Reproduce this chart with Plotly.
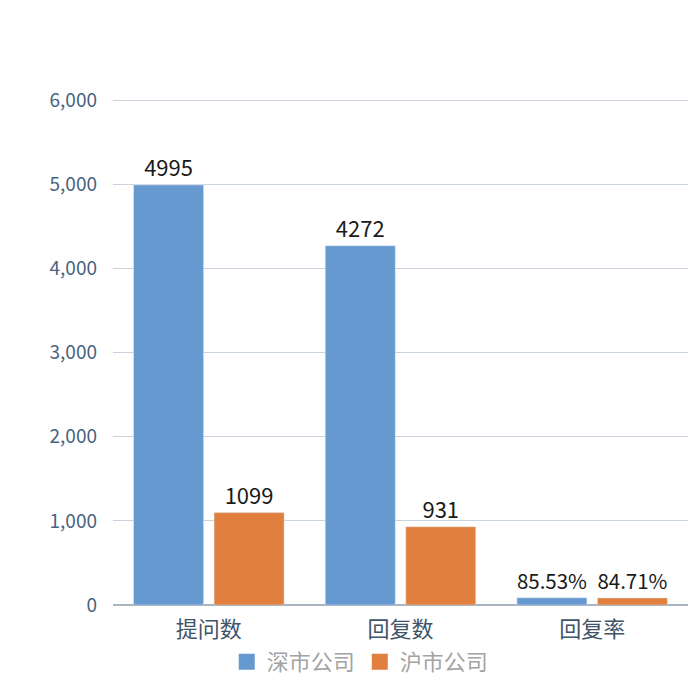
import plotly.graph_objects as go

categorias = ["提问数", "回复数", "回复率"]
shenshi = [4995, 4272, 85.53]
hushi = [1099, 931, 84.71]
rotulos_shenshi = ["4995", "4272", "85.53%"]
rotulos_hushi = ["1099", "931", "84.71%"]

fonte = "Noto Sans CJK SC"

fig = go.Figure()
for nome, valores, rotulos, cor in [
    ("深市公司", shenshi, rotulos_shenshi, "#6699D0"),
    ("沪市公司", hushi, rotulos_hushi, "#E07F3E"),
]:
    fig.add_trace(go.Bar(
        x=categorias, y=valores, name=nome,
        marker_color=cor,
        text=rotulos, textposition="outside",
        textfont=dict(color="#1a1a1a", size=22),
        cliponaxis=False, showlegend=False,
    ))
    # marcador maior so para a legenda
    fig.add_trace(go.Scatter(
        x=[None], y=[None], mode="markers", name=nome,
        marker=dict(symbol="square", size=17, color=cor),
    ))

# a pagina tem 8px de margem no body, por isso 692
fig.update_layout(
    width=692, height=692,
    margin=dict(l=105, r=12, t=89, b=95, autoexpand=False),
    barmode="group",
    bargap=0.16,
    bargroupgap=0.13,
    plot_bgcolor="white",
    paper_bgcolor="white",
    font=dict(family=fonte, size=18, color="#4A6380"),
    legend=dict(
        orientation="h", x=0.43, xanchor="center", y=-0.112, yanchor="middle",
        font=dict(color="#A3A3A3", size=22), itemsizing="trace",
        itemwidth=30, bgcolor="rgba(0,0,0,0)",
    ),
)
fig.update_yaxes(
    range=[0, 6040], dtick=1000, tickformat=",", automargin=False,
    showgrid=True, gridcolor="#C9D3DE", gridwidth=1,
    zeroline=True, zerolinecolor="#A8B4C0", zerolinewidth=1.5,
    ticks="", ticklabelstandoff=15, tickfont=dict(size=19, color="#4A6380"),
)
fig.update_xaxes(
    showline=False, ticks="", automargin=False, ticklabelstandoff=9,
    tickfont=dict(size=22, color="#3F5369"),
)

fig.write_html("out.html")
